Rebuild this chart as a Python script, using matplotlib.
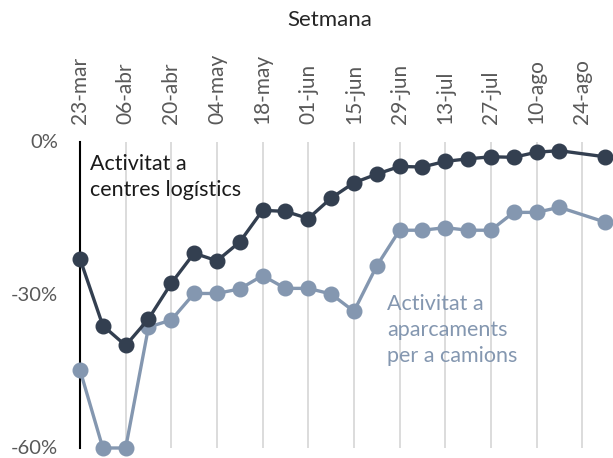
import matplotlib
matplotlib.use('Agg')
from matplotlib import pyplot as plt
from matplotlib.transforms import ScaledTranslation
import numpy as np

plt.rcParams['font.family'] = ['Lato', 'DejaVu Sans']

weeks = ['23-mar', '30-mar', '06-abr', '13-abr', '20-abr', '27-abr', '04-may', '11-may',
         '18-may', '25-may', '01-jun', '08-jun', '15-jun', '22-jun', '29-jun', '06-jul',
         '13-jul', '20-jul', '27-jul', '03-ago', '10-ago', '17-ago', '24-ago', '31-ago']

# % change vs. pre-COVID baseline (None = no data that week)
logistics = [-22.9, -36.0, -39.9, -34.7, -27.7, -21.8, -23.3, -19.6, -13.4, -13.6, -15.0, -11.0,
             -8.0, -6.3, -4.8, -4.9, -3.8, -3.3, -2.9, -3.0, -2.0, -1.7, None, -2.9]
truck_parks = [-44.7, -60.0, -60.0, -36.3, -34.9, -29.7, -29.7, -28.8, -26.2, -28.7, -28.7, -29.8,
               -33.2, -24.3, -17.3, -17.3, -16.8, -17.3, -17.3, -13.8, -13.8, -12.8, None, -15.7]

dark = '#333f50'
light = '#8497b0'
grey = '#595959'

fig = plt.figure(figsize=(6.13, 4.58), dpi=100)
ax = fig.add_axes([0.1305, 10 / 458, 0.8695, 306 / 458])

x = np.arange(len(weeks))
for vals, col in [(truck_parks, light), (logistics, dark)]:
    xs = [i for i, v in zip(x, vals) if v is not None]
    ys = [v for v in vals if v is not None]
    ax.plot(xs, ys, '-o', color=col, lw=2.4, markersize=10.5, clip_on=False, zorder=3)

ax.set_xlim(0, 23.35)
ax.set_ylim(-60, 0)

ax.xaxis.tick_top()
ax.set_xticks(x[::2])
ax.set_xticklabels(weeks[::2], rotation=90, fontsize=15, color=grey)
ax.set_yticks([0, -30, -60])
ax.set_yticklabels(['0%', '-30%', '-60%'], fontsize=14.5, color=grey)
ax.tick_params(axis='both', length=0)
ax.tick_params(axis='x', pad=13)
ax.tick_params(axis='y', pad=16)
up = ScaledTranslation(0, 0.8 / 72, fig.dpi_scale_trans)
for lbl in ax.get_yticklabels():
    lbl.set_transform(lbl.get_transform() + up)

for xi in x[2::2]:
    ax.axvline(xi, color='#d9d9d9', lw=1.3, zorder=1)

for s in ['top', 'right', 'bottom']:
    ax.spines[s].set_visible(False)
ax.spines['left'].set_color('black')
ax.spines['left'].set_linewidth(1.5)

ax.text(0.45, -2.3, 'Activitat a\ncentres logístics', fontsize=15.5, color='#1a1a1a',
        va='top', ha='left', linespacing=1.37)
ax.text(13.45, -29.8, 'Activitat a\naparcaments\nper a camions', fontsize=15.5, color=light,
        va='top', ha='left', linespacing=1.37)

fig.text(330 / 613, 1 - 20 / 458, 'Setmana', fontsize=16, color='#262626',
         ha='center', va='center')

fig.savefig('out.png', dpi=100)
